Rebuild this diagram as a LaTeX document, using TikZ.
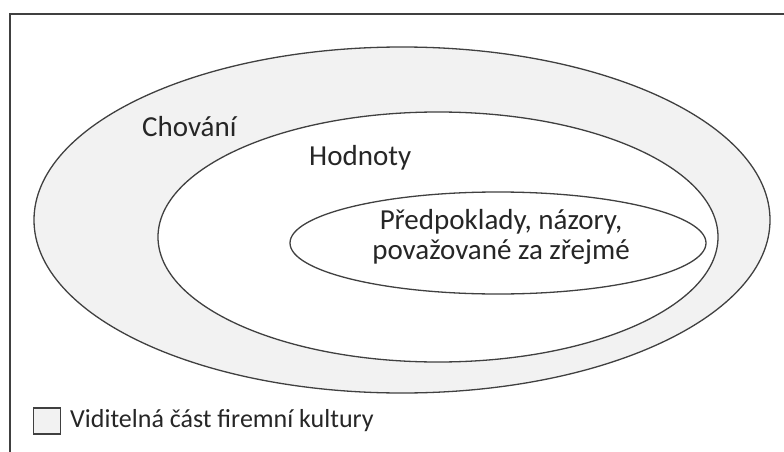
\documentclass[tikz,border=0pt]{standalone}
\usepackage{fontspec}
\setmainfont{Carlito}
\definecolor{ringfill}{HTML}{F2F2F2}
\definecolor{ringline}{HTML}{404040}
\tikzset{
  ring/.style={draw=ringline, line width=1.3pt},
  lbl/.style={text=black!85, font=\fontsize{29}{30}\selectfont, inner sep=0pt}
}
\begin{document}
\begin{tikzpicture}[x=1pt,y=-1pt]
      \useasboundingbox (0,0) rectangle (784,452);
      % frame
      \draw[ringline, line width=1.6pt] (10,452) -- (10,14) -- (784,14);
      % layers
      \draw[ring, fill=ringfill] (402,220) ellipse [x radius=368, y radius=173];
      \draw[ring, fill=white] (438,237) ellipse [x radius=280, y radius=125];
      \draw[ring, fill=white] (498,243) ellipse [x radius=208, y radius=51];
      \node[lbl, anchor=west] (chovani) at (142,127) {Chování};
      \node[lbl, anchor=west] (hodnoty) at (309,158) {Hodnoty};
      \node[lbl, align=center] (predpoklady) at (501,237) {Předpoklady, názory,\\považované za zřejmé};
      % legend
      \node[ring, line width=1.1pt, fill=ringfill, minimum width=27pt, minimum height=26pt, inner sep=0pt] (legbox) at (47,421) {};
      \node[lbl, anchor=west, font=\fontsize{26}{28}\selectfont] (legtext) at (70,421) {Viditelná část firemní kultury};
\end{tikzpicture}
\end{document}
